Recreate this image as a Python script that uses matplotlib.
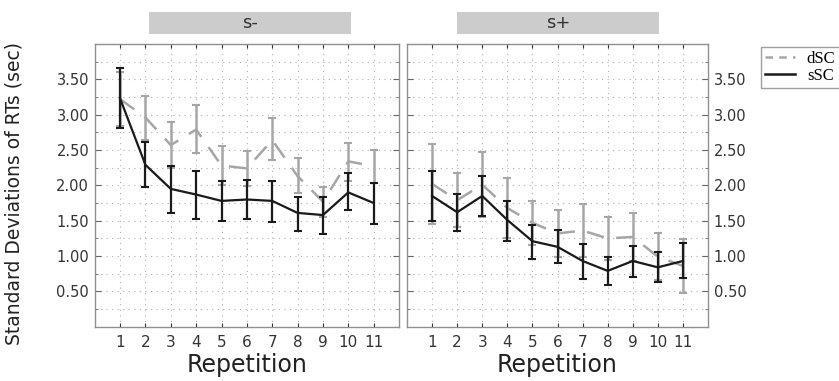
import numpy as np
import matplotlib
matplotlib.use("Agg")
import matplotlib.pyplot as plt
from matplotlib.ticker import MultipleLocator, FormatStrFormatter, FixedLocator
from matplotlib.lines import Line2D

repeticoes = list(range(1, 12))
paineis = ["s-", "s+"]

# s- : media, limite superior, limite inferior
smenos_ssc = [3.23, 2.29, 1.95, 1.87, 1.78, 1.80, 1.78, 1.61, 1.58, 1.90, 1.75]
smenos_ssc_sup = [3.66, 2.61, 2.28, 2.21, 2.06, 2.08, 2.06, 1.84, 1.83, 2.17, 2.04]
smenos_ssc_inf = [2.81, 1.97, 1.61, 1.53, 1.49, 1.52, 1.48, 1.36, 1.31, 1.65, 1.45]

smenos_dsc = [3.22, 2.96, 2.57, 2.79, 2.28, 2.24, 2.64, 2.13, 1.77, 2.34, 2.27]
smenos_dsc_sup = [3.60, 3.26, 2.89, 3.14, 2.56, 2.49, 2.95, 2.38, 1.97, 2.60, 2.50]
smenos_dsc_inf = [2.84, 2.64, 2.25, 2.46, 2.00, 1.99, 2.36, 1.89, 1.55, 2.06, 2.04]

# s+
smais_ssc = [1.85, 1.62, 1.85, 1.51, 1.21, 1.13, 0.93, 0.79, 0.93, 0.84, 0.93]
smais_ssc_sup = [2.21, 1.88, 2.13, 1.78, 1.44, 1.37, 1.17, 0.98, 1.14, 1.06, 1.19]
smais_ssc_inf = [1.49, 1.35, 1.57, 1.21, 0.96, 0.90, 0.68, 0.59, 0.71, 0.63, 0.69]

smais_dsc = [2.02, 1.79, 2.01, 1.68, 1.47, 1.32, 1.36, 1.25, 1.27, 0.99, 0.86]
smais_dsc_sup = [2.58, 2.17, 2.47, 2.10, 1.78, 1.65, 1.74, 1.55, 1.61, 1.32, 1.24]
smais_dsc_inf = [1.46, 1.41, 1.55, 1.26, 1.16, 0.99, 0.98, 0.95, 0.93, 0.66, 0.47]

dados = {
    "s-": (smenos_dsc, smenos_dsc_sup, smenos_dsc_inf, smenos_ssc, smenos_ssc_sup, smenos_ssc_inf),
    "s+": (smais_dsc, smais_dsc_sup, smais_dsc_inf, smais_ssc, smais_ssc_sup, smais_ssc_inf),
}

cinza = "#a6a6a6"
preto = "#1a1a1a"

fig = plt.figure(figsize=(8.39, 3.81), dpi=100)
eixos = [
    fig.add_axes([0.1129, 0.1425, 0.3627, 0.742]),
    fig.add_axes([0.4851, 0.1425, 0.3588, 0.742]),
]

# faixas cinzas dos titulos (em pixels da figura)
faixas = [(149, 202), (457, 202)]

for i, (ax, nome) in enumerate(zip(eixos, paineis)):
    dsc, dsc_sup, dsc_inf, ssc, ssc_sup, ssc_inf = dados[nome]
    dsc = np.array(dsc)
    ssc = np.array(ssc)

    ax.errorbar(
        repeticoes, dsc,
        yerr=[dsc - np.array(dsc_inf), np.array(dsc_sup) - dsc],
        color=cinza, ecolor=cinza, linewidth=1.8, elinewidth=1.8,
        capsize=3, capthick=1.5, dashes=(7, 5), zorder=3
    )
    ax.errorbar(
        repeticoes, ssc,
        yerr=[ssc - np.array(ssc_inf), np.array(ssc_sup) - ssc],
        color=preto, ecolor=preto, linewidth=1.6, elinewidth=1.6,
        capsize=3, capthick=1.5, zorder=4
    )

    ax.set_xlim(0, 12)
    ax.set_ylim(0, 4)
    ax.set_xticks(repeticoes)
    ax.set_xticklabels([str(r) for r in repeticoes])
    ax.yaxis.set_major_locator(FixedLocator(np.arange(0.5, 3.51, 0.5)))
    ax.yaxis.set_minor_locator(MultipleLocator(0.25))
    ax.yaxis.set_major_formatter(FormatStrFormatter("%.2f"))

    ax.grid(True, which="both", axis="y", linestyle=(0, (1, 4)), color="#b0b0b0", linewidth=0.8)
    ax.grid(True, which="major", axis="x", linestyle=(0, (1, 4)), color="#b0b0b0", linewidth=0.8)

    for lado in ax.spines.values():
        lado.set_color("#909090")
        lado.set_linewidth(1.0)

    ax.tick_params(axis="x", which="major", top=True, bottom=True, direction="in",
                   length=3, color="#333333", labelsize=11, pad=6, labelcolor="#333333")
    ax.tick_params(axis="y", which="both", left=True, right=True, direction="in",
                   length=4, color="#666666", labelsize=10.5, labelcolor="#333333", pad=4)
    ax.tick_params(axis="y", which="minor", length=2)
    if i == 0:
        ax.tick_params(axis="y", labelleft=True, labelright=False)
        ax.set_ylabel("Standard Deviations of RTs (sec)", fontsize=13.5, color="#222222")
        ax.yaxis.set_label_coords(-0.235, 0.47)
    else:
        ax.tick_params(axis="y", labelleft=False, labelright=True)

    ax.set_xlabel("Repetition", fontsize=17, labelpad=2, color="#222222")

    x0, largura = faixas[i]
    fig.patches.append(plt.Rectangle((x0 / 839, 1 - 34 / 381), largura / 839, 22 / 381,
                                     transform=fig.transFigure, facecolor="#cccccc",
                                     edgecolor="none", zorder=0))
    fig.text((x0 + largura / 2) / 839, 1 - 23 / 381, nome, ha="center", va="center",
             fontsize=13, color="#333333")

linhas = [
    Line2D([], [], color=cinza, linewidth=1.8, dashes=(3, 2.5)),
    Line2D([], [], color=preto, linewidth=1.8),
]
fig.legend(linhas, ["dSC", "sSC"], loc="upper left", bbox_to_anchor=(761 / 839, 1 - 47 / 381),
           frameon=True, fancybox=False, edgecolor="#888888", borderpad=0.25,
           handlelength=1.8, handletextpad=0.7, labelspacing=0.05, borderaxespad=0,
           prop={"family": "Liberation Serif", "size": 12})

fig.savefig("out.png", dpi=100)
